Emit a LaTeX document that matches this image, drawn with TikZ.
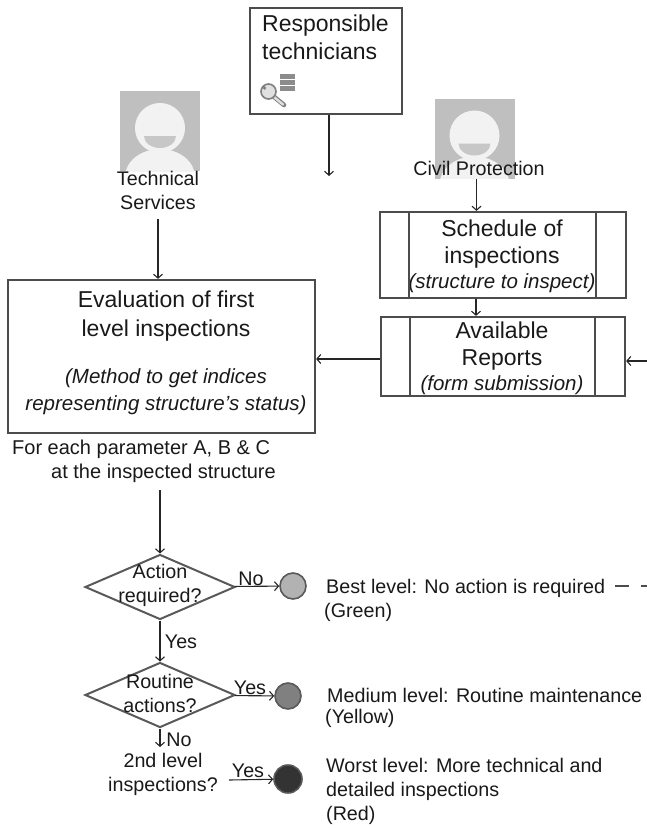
\documentclass[tikz,border=0pt]{standalone}
\usepackage{fontspec}
\setmainfont{Liberation Sans}
\usetikzlibrary{
  arrows.meta,
  calc,
  positioning,
  shapes.geometric
}
\tikzset{
  % For boxes; their text sits in a separate node.
  block/.style={
    draw=black!70,
    line width=2.2pt,
    inner sep=0pt},
%
  % For the decision shapes.
  decision/.style={
    diamond,
    draw=black!65,
    line width=2pt,
    inner sep=0pt,
    minimum width=150pt,
    minimum height=65pt},
%
  % For plain text.
  caption/.style={
    inner sep=0pt,
    align=center,
    text=black!90,
    font=\fontsize{19.7}{24}\selectfont},
  % For the larger titles in the boxes.
  title/.style={
    caption,
    font=\fontsize{23}{28}\selectfont},
  % For text on the right, starting at the left edge.
  level/.style={
    caption,
    align=left,
    anchor=west},
%
  % For curves with one arrow.
  direction/.style={
    line width=1.1pt,
    draw=black!85,
    -{Straight Barb[length=4pt,width=9pt]}},
%
  % For the three result dots.
  result/.style={
    circle,
    draw=black!65,
    line width=1.6pt,
    inner sep=0pt,
    minimum size=26pt},
%
  % For the grey portrait squares.
  portrait/.style={
    fill=black!25,
    inner sep=0pt,
    minimum size=80pt}
}
% Italic remarks inside the boxes.
\newcommand*{\NoteFont}{\itshape\fontsize{20.5}{24}\selectfont}
% Face and shoulders inside a portrait square; #1 is the name of its node.
\newcommand*{\PersonFace}[1]{
  \begin{scope}
    \clip (#1.north west) rectangle (#1.south east);
    \fill[black!5] ($(#1.center)+(0,46)$) ellipse [x radius=35, y radius=28];
    \fill[black!5] ($(#1.center)+(0,-3)$) circle [radius=25];
    \fill[black!22] ($(#1.center)+(-16,5)$) -- ($(#1.center)+(16,5)$)
      arc [start angle=0, end angle=-180, x radius=16, y radius=-12] -- cycle;
  \end{scope}
}

\begin{document}
\begin{tikzpicture}[x=1pt,y=-1pt]
  \useasboundingbox (0,0) rectangle (647,828);
  \coordinate (rightedge) at (647,361);
  \coordinate (dashend) at (647,586);

  % Top row.
  \node[block, minimum width=152pt, minimum height=106pt] (technicians) at (326,61) {};
  \node[title, anchor=north west, align=left]
    (techniciansname) at (262,14.5) {Responsible\\technicians};
  \coordinate (technend) at (329,176);

  % Key and data stack.
  \foreach \y in {74,80,86}
    {\fill[black!45] (280,\y) rectangle +(15,5);}
  \draw[black!50, line width=4.6pt, line cap=round] (273,96) -- (284,105);
  \draw[black!85!white, line width=0pt, draw=black!12, fill=black!12, line width=2.4pt, line cap=round] (274,97) -- (283,104.5);
  \draw[black!50, line width=1.6pt, fill=black!12] (268.5,91.5) circle [radius=7.5];
  \fill[black!50] (264.5,88) circle [radius=1.8];

  \node[portrait] (servicesicon) at (160,131) {};
  \PersonFace{servicesicon}
  \node[caption, anchor=north] (services) at (158,171) {Technical\\Services};

  \node[portrait] (civilicon) at (474.5,138.5) {};
  \PersonFace{civilicon}
  \node[caption] (civil) at (479,168) {Civil Protection};

  % Boxes.
  \node[block, minimum width=246pt, minimum height=86pt] (schedule) at (503,255) {};
  \node[title] (scheduletext) at (502,256.5)
    {Schedule of\\[-1pt]inspections\\[-3pt]\NoteFont (structure to inspect)};
  \node[block, minimum width=244pt, minimum height=79pt] (reports) at (503,356.5) {};
  \node[title] (reportstext) at (502,358.5)
    {Available\\[-1pt]Reports\\[-3pt]\NoteFont (form submission)};
  \foreach \boxname in {schedule, reports}
    {\draw[block]
       ([xshift=30pt]\boxname.north west) -- ([xshift=30pt]\boxname.south west);
     \draw[block]
       ([xshift=-31pt]\boxname.north east) -- ([xshift=-31pt]\boxname.south east);}

  \node[block, minimum width=307pt, minimum height=153pt] (evaluation) at (161.5,356.5) {};
  \node[title, font=\fontsize{23}{29}\selectfont] (evaluationtext) at (166,353)
    {Evaluation of first\\level inspections\\[18pt]
     \NoteFont (Method to get indices\\[-2pt]
     \NoteFont representing structure’s status)};

  \node[caption, anchor=north west, align=left, font=\fontsize{20}{24}\selectfont]
    (parameter) at (12,440)
    {For each parameter A, B \& C\\\hspace{39pt}at the inspected structure};

  % Decisions.
  \node[decision] (action) at (160,587) {};
  \node[caption] (actiontext) at (160,585.5) {Action\\required?};
  \node[decision] (routine) at (160,695) {};
  \node[caption] (routinetext) at (160,693) {Routine\\actions?};
  \node[caption] (second) at (163,774.5) {2nd level\\inspections?};
  \coordinate (secondout) at (229,780);

  % Results.
  \node[result, fill=black!30] (best) at (293,586) {};
  \node[result, fill=black!50] (medium) at (288,696) {};
  \node[result, fill=black!80, minimum size=28pt] (worst) at (288,779) {};
  \node[level] (besttext) at (326,588) {Best level: No action is required};
  \node[level] (green) at (324,612) {(Green)};
  \node[level] (mediumtext) at (327,695) {Medium level: Routine maintenance};
  \node[level] (yellow) at (325,718.5) {(Yellow)};
  \node[level] (worsttext) at (326,791) {Worst level: More technical and\\detailed inspections\\(Red)};

  % Connectors.
  \draw[direction] ([xshift=3pt]technicians.south) -- (technend);
  \draw[direction] (services.south |- 0,219) -- (services.south |- evaluation.north);
  \draw[direction] ([xshift=2pt]civilicon.south) -- ([xshift=2pt]schedule.north -| civilicon.south);
  \draw[direction] ([xshift=-27pt]schedule.south) -- ([xshift=-27pt]reports.north);
  \draw[direction] ([yshift=-2.5pt]reports.west) -- ([yshift=-2.5pt]reports.west -| evaluation.east);
  \draw[direction] (rightedge) -- (rightedge -| reports.east);
  \draw[direction] (action.north |- 0,490) -- (action.north);
  \draw[direction] (action) -- (best);
  \draw[direction] (action.south) -- (routine.north);
  \draw[direction] (routine) -- (medium);
  \draw[direction] (routine.south) -- (routine.south |- 0,747);
  \draw[direction] (secondout) -- (worst);
  \draw[black!70, line width=1.4pt, dash pattern=on 14pt off 12pt]
    (615,586) -- (dashend);

  % Connector labels.
  \node[caption] (nobest) at (251,579) {No};
  \node[caption] (yesroutine) at (181,642) {Yes};
  \node[caption] (yesmedium) at (250,688) {Yes};
  \node[caption] (nosecond) at (179,740) {No};
  \node[caption] (yesworst) at (248,771) {Yes};
\end{tikzpicture}
\end{document}
